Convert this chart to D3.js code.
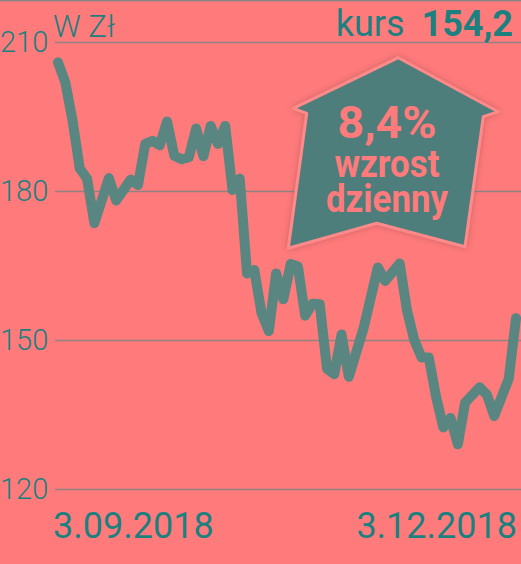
<!DOCTYPE html>
<html>
<head>
<meta charset="utf-8">
<script src="https://cdn.jsdelivr.net/npm/d3@7"></script>
<style>
  html, body { margin: 0; padding: 0; background: #ff7b7b; }
  svg { display: block; }
</style>
</head>
<body>
<svg id="chart" width="521" height="564"></svg>
<script>
// ---- data ----
const dayIndex = [0, 1, 2, 3, 4, 5, 7, 8, 10, 11, 12, 13, 14, 15, 16, 17, 18, 19, 20, 21, 22, 23, 24, 25,
  26, 27, 28, 29, 30, 31, 32, 33, 34, 35, 36, 37, 38, 39, 40, 42, 44, 45, 47, 48, 49, 50, 51, 52, 53, 54, 55, 56, 58, 59, 60, 62, 63];
const price = [205.9, 201.9, 194.2, 184.5, 182.5, 173.5, 182.6, 178.1, 182.3, 181.2, 189.5, 190.1, 189.2, 194.0, 187.1, 186.4, 186.8, 192.6, 187.0, 193.1, 189.5, 193.1, 180.2, 182.5,
  163.4, 164.1, 155.4, 151.8, 163.4, 158.2, 165.3, 164.8, 154.9, 157.3, 157.2, 144.2, 143.1, 151.1, 142.6, 152.2, 164.6, 161.9, 165.4, 156.0, 150.0, 146.5, 146.5, 138.6, 132.4, 134.3, 129.0, 137.4, 140.5, 139.0, 134.7, 142.2, 154.4];
const yTicks = [210, 180, 150, 120];
const dateLabels = ["3.09.2018", "3.12.2018"];
const unitLabel = "W Zł";
const kursLabel = "kurs";
const kursValue = "154,2";
const badgeLines = ["8,4%", "wzrost", "dzienny"];
const lastDay = 63;

const points = dayIndex.map((d, i) => ({ d, v: price[i] }));

// ---- drawing ----
const svg = d3.select("#chart");
const W = 521, H = 564;
const bg = "#ff7b7b", grid = "#8f8282", teal = "#1b8080", lineCol = "#5a8682", badgeFill = "#4e7e7b";

svg.append("rect").attr("width", W).attr("height", H).attr("fill", bg);
svg.append("line").attr("x1", 0).attr("x2", W).attr("y1", 0.75).attr("y2", 0.75)
  .attr("stroke", grid).attr("stroke-width", 1.5);

const x = d3.scaleLinear().domain([0, lastDay]).range([58, 516]);
const y = d3.scaleLinear().domain([120, 210]).range([489, 42]);

// gridlines + tick labels via axis
const axis = d3.axisLeft(y).tickValues(yTicks).tickSize(-(W - 55)).tickPadding(0).tickFormat(d3.format("d"));
const gAxis = svg.append("g").attr("transform", "translate(55,0)").call(axis);
gAxis.select(".domain").remove();
gAxis.selectAll(".tick line").attr("stroke", grid).attr("stroke-width", 1.6);
gAxis.selectAll(".tick text")
  .attr("x", -55).attr("dy", "0.34em")
  .attr("text-anchor", "start")
  .attr("fill", teal)
  .style("font-family", "Roboto, 'Open Sans', sans-serif")
  .style("font-weight", 300)
  .style("font-size", "29px");

// unit label
svg.append("text").attr("x", 53).attr("y", 37).text(unitLabel)
  .attr("fill", teal).style("font-family", "Roboto, sans-serif").style("font-weight", 300).style("font-size", "31px");

// kurs label
const kt = svg.append("text").attr("x", 513).attr("y", 36).attr("text-anchor", "end")
  .attr("fill", teal).style("font-family", "Roboto, sans-serif").style("font-size", "36px");
kt.append("tspan").text(kursLabel + " ").style("font-weight", 400);
kt.append("tspan").text(kursValue).style("font-weight", 700).attr("dx", 8);

// line
const line = d3.line().x(p => x(p.d)).y(p => y(p.v));
svg.append("path").datum(points).attr("d", line)
  .attr("fill", "none").attr("stroke", lineCol).attr("stroke-width", 10)
  .attr("stroke-linejoin", "round").attr("stroke-linecap", "round");

// date labels
svg.append("text").attr("x", 53).attr("y", 538).text(dateLabels[0])
  .attr("fill", teal).style("font-family", "Roboto, sans-serif").style("font-size", "36px");
svg.append("text").attr("x", 517).attr("y", 538).attr("text-anchor", "end").text(dateLabels[1])
  .attr("fill", teal).style("font-family", "Roboto, sans-serif").style("font-size", "36px");

// badge (up arrow)
const defs = svg.append("defs");
const f = defs.append("filter").attr("id", "glow").attr("x", "-20%").attr("y", "-20%").attr("width", "140%").attr("height", "140%");
f.append("feGaussianBlur").attr("in", "SourceAlpha").attr("stdDeviation", 3).attr("result", "b");
f.append("feFlood").attr("flood-color", "#8a3f45").attr("flood-opacity", 0.45).attr("result", "c");
f.append("feComposite").attr("in", "c").attr("in2", "b").attr("operator", "in").attr("result", "s");
const m = f.append("feMerge");
m.append("feMergeNode").attr("in", "s");
m.append("feMergeNode").attr("in", "SourceGraphic");

const badge = [[398.3, 57.7], [498.3, 111.7], [483.3, 116.7], [465, 246.7], [376.7, 223.3], [288.3, 248.3], [306.7, 113.3], [293.3, 108.3]];
svg.append("path")
  .attr("d", d3.line().curve(d3.curveLinearClosed)(badge))
  .attr("fill", badgeFill).attr("stroke", "#ff8a8a").attr("stroke-width", 3)
  .attr("stroke-linejoin", "round").attr("filter", "url(#glow)");

const bt = [
  { t: badgeLines[0], y: 138, size: 44, len: 99 },
  { t: badgeLines[1], y: 176.5, size: 38, len: 105 },
  { t: badgeLines[2], y: 211.5, size: 38, len: 122 }
];
bt.forEach(b => {
  svg.append("text").attr("x", 387).attr("y", b.y).attr("text-anchor", "middle").text(b.t)
    .attr("fill", bg).style("font-family", "Roboto, sans-serif").style("font-weight", 700)
    .style("font-size", b.size + "px")
    .attr("textLength", b.len).attr("lengthAdjust", "spacingAndGlyphs");
});
</script>
</body>
</html>
